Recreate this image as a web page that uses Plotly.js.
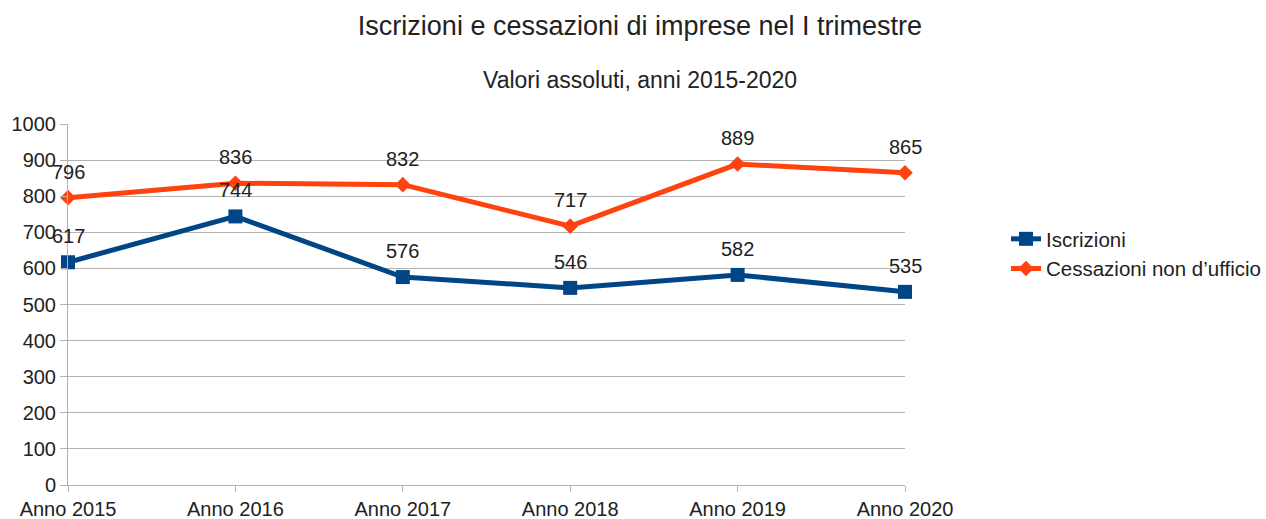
<!DOCTYPE html>
<html><head><meta charset="utf-8">
<script src="https://cdn.plot.ly/plotly-3.0.1.min.js"></script>
<style>body{margin:0;padding:0;background:#fff}#c{width:1266px;height:519px}</style>
</head><body><div id="c"></div>
<script>
const categories = ["Anno 2015","Anno 2016","Anno 2017","Anno 2018","Anno 2019","Anno 2020"];
const iscrizioni = [617,744,576,546,582,535];
const cessazioni = [796,836,832,717,889,865];
const seriesNames = ["Iscrizioni","Cessazioni non d\u2019ufficio"];
const yTicks = [0,100,200,300,400,500,600,700,800,900,1000];

const F = "Liberation Sans, Arial, sans-serif";
const TXT = "#222";
const traces = [
  {x: categories, y: iscrizioni, name: seriesNames[0], type: "scatter", mode: "lines+markers",
   line: {color: "#004586", width: 5}, marker: {symbol: "square", size: 14, color: "#004586"}, cliponaxis: false},
  {x: categories, y: cessazioni, name: seriesNames[1], type: "scatter", mode: "lines+markers",
   line: {color: "#ff420e", width: 5}, marker: {symbol: "diamond", size: 12, color: "#ff420e"}, cliponaxis: false}
];
const labelAnn = [];
[iscrizioni, cessazioni].forEach(series => {
  series.forEach((v, i) => labelAnn.push({
    x: categories[i], y: v, xref: "x", yref: "y", text: String(v), showarrow: false,
    xanchor: "center", yanchor: "middle", yshift: 26, font: {family: F, size: 20, color: TXT}
  }));
});
const layout = {
  width: 1266, height: 519,
  margin: {l: 68, r: 361, t: 124, b: 34, autoexpand: false},
  paper_bgcolor: "#fff", plot_bgcolor: "#fff",
  font: {family: F, size: 20, color: TXT},
  title: {text: "Iscrizioni e cessazioni di imprese nel I trimestre", font: {family: F, size: 27, color: TXT},
          x: 0.5055, xanchor: "center", xref: "container", y: 1 - 26/519, yanchor: "middle", yref: "container"},
  annotations: [{text: "Valori assoluti, anni 2015-2020", xref: "paper", yref: "paper", x: (640-68)/837, y: (485-80)/361,
                 xanchor: "center", yanchor: "middle", showarrow: false, font: {family: F, size: 23, color: TXT}}].concat(labelAnn),
  xaxis: {type: "category", range: [0, 5], showgrid: false, showline: true, linecolor: "#b3b3b3", linewidth: 1,
          ticks: "outside", ticklen: 6, tickcolor: "#b3b3b3", tickfont: {family: F, size: 20, color: TXT},
          zeroline: false},
  yaxis: {range: [0, 1000], tickvals: yTicks, showgrid: true, gridcolor: "#b3b3b3", gridwidth: 1,
          showline: true, linecolor: "#b3b3b3", ticks: "outside", ticklen: 7, tickcolor: "#b3b3b3",
          tickfont: {family: F, size: 20, color: TXT}, zeroline: false},
  showlegend: true,
  legend: {x: (1006-68)/837, y: (485-254)/361, xanchor: "left", yanchor: "middle", font: {family: F, size: 20.5, color: TXT},
           tracegroupgap: 0}
};
Plotly.newPlot("c", traces, layout, {displayModeBar: false, staticPlot: true});
</script></body></html>
